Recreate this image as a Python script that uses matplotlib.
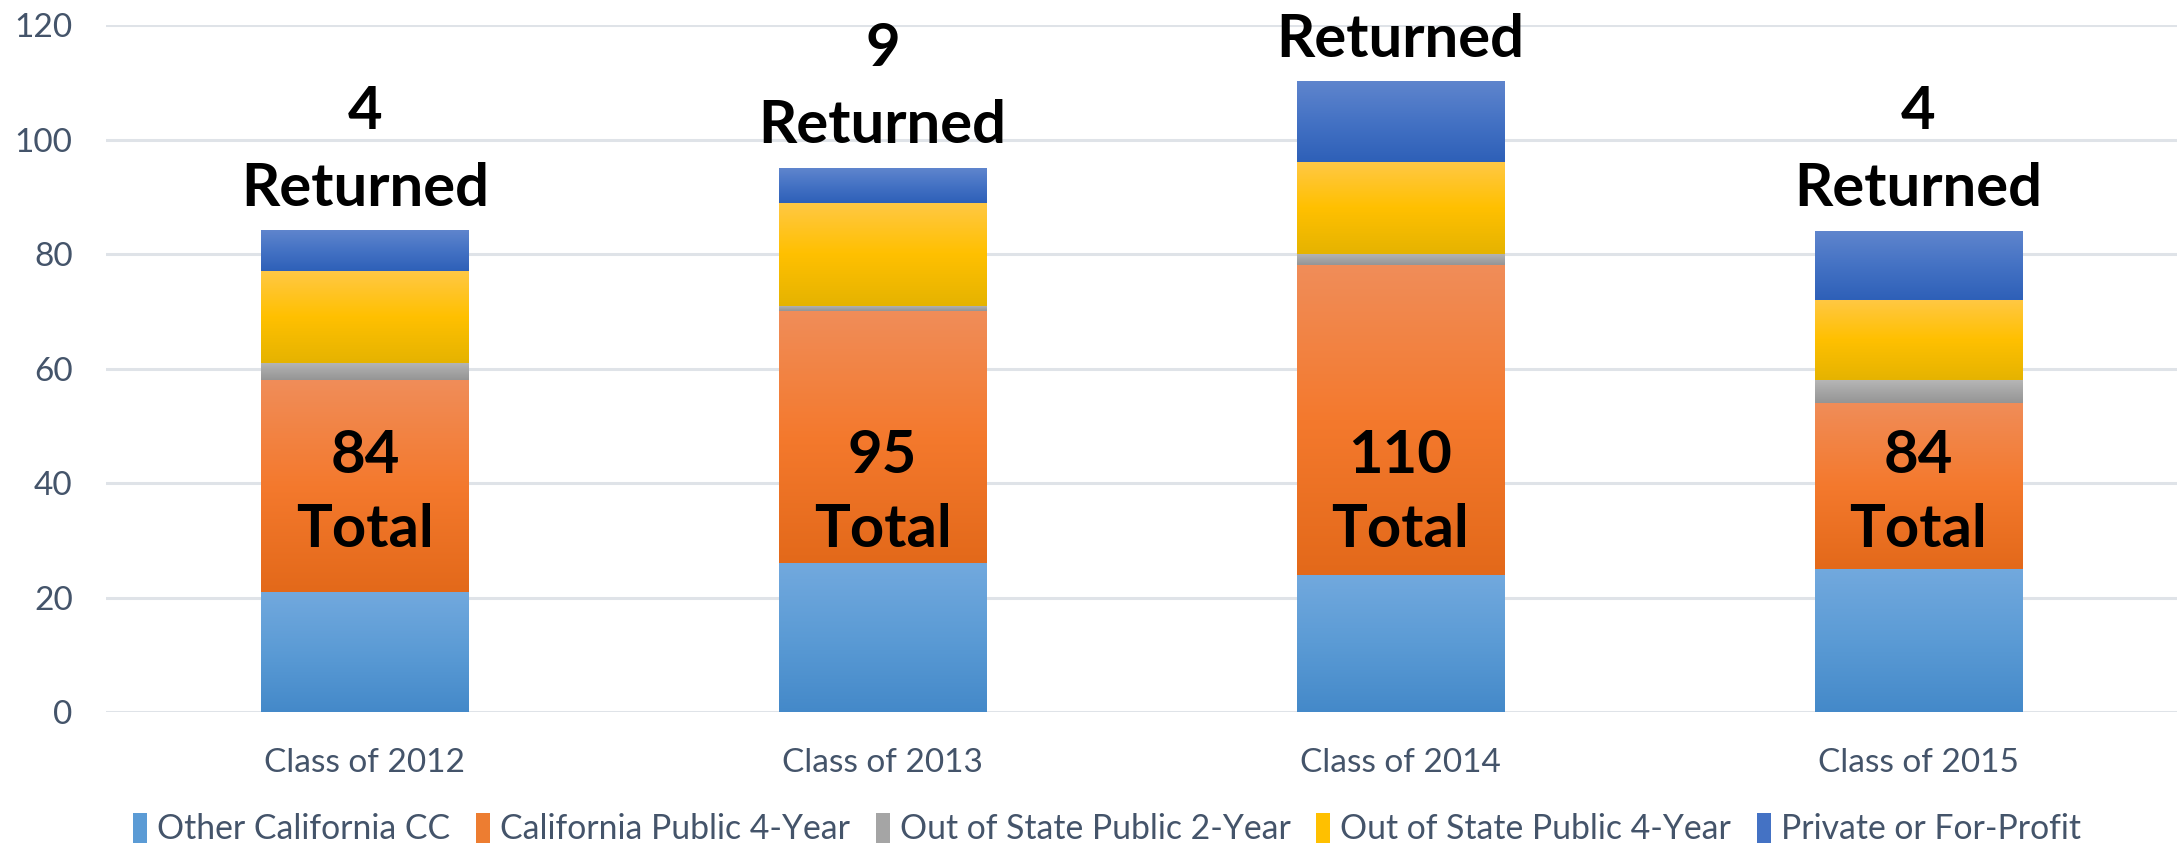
import matplotlib
matplotlib.use("Agg")
import matplotlib.pyplot as plt
from matplotlib.colors import LinearSegmentedColormap
import numpy as np

plt.rcParams['font.family'] = ['Lato', 'DejaVu Sans']

categories = ["Class of 2012", "Class of 2013", "Class of 2014", "Class of 2015"]
series_names = ["Other California CC", "California Public 4-Year", "Out of State Public 2-Year",
                "Out of State Public 4-Year", "Private or For-Profit"]
other_ca_cc = [21, 26, 24, 25]
ca_public_4yr = [37, 44, 54, 29]
oos_public_2yr = [3, 1, 2, 4]
oos_public_4yr = [16, 18, 16, 14]
private_for_profit = [7, 6, 14, 12]
totals = ["84", "95", "110", "84"]
returned = ["4", "9", "", "4"]
yticks = [0, 20, 40, 60, 80, 100, 120]

series = [other_ca_cc, ca_public_4yr, oos_public_2yr, oos_public_4yr, private_for_profit]
# (top, middle, bottom) gradient colours
grads = [("#72a9de", "#5b9bd5", "#4489c9"),
         ("#f08d59", "#f4792d", "#e3691a"),
         ("#b6b6b6", "#a5a5a5", "#959595"),
         ("#ffc845", "#ffc000", "#e5b300"),
         ("#5f85cd", "#4472c4", "#2e60b8")]
base = ["#5b9bd5", "#ed7d31", "#a5a5a5", "#ffc000", "#4472c4"]

fig = plt.figure(figsize=(21.77, 8.46), dpi=100)
ax = fig.add_axes([0.0487, 0.1584, 0.9513, 0.812])

x = np.arange(len(categories))
bottom = np.zeros(len(categories))
width = 0.40
for vals, g, c, name in zip(series, grads, base, series_names):
    bars = ax.bar(x, vals, width, bottom=bottom, color=c, label=name, zorder=2, linewidth=0)
    cmap = LinearSegmentedColormap.from_list("g", [g[2], g[1], g[0]])
    grad = np.linspace(0, 1, 256).reshape(-1, 1)
    for r in bars:
        x0, y0, w, h = r.get_x(), r.get_y(), r.get_width(), r.get_height()
        ax.imshow(grad, extent=(x0, x0 + w, y0, y0 + h), origin="lower", cmap=cmap,
                  aspect="auto", zorder=2.5, interpolation="bilinear")
    bottom = bottom + np.array(vals)

ax.set_xlim(-0.5, 3.5)
ax.set_ylim(0, 120)
ax.set_aspect("auto")
ax.set_yticks(yticks)
ax.set_xticks(x)
ax.set_xticklabels(categories)
ax.grid(axis="y", color="#dfe3e8", linewidth=2.2, zorder=0)
ax.set_axisbelow(True)
for s in ax.spines.values():
    s.set_visible(False)
ax.tick_params(axis="both", length=0, labelsize=24, colors="#44546a")
ax.tick_params(axis="y", pad=24)
ax.tick_params(axis="x", pad=26)

lbl = dict(fontsize=43, fontweight="bold", color="black", ha="center", zorder=5)
for i in range(len(categories)):
    ax.text(x[i], 38.3, totals[i] + "\nTotal", va="center", linespacing=1.45, **lbl)
    ax.annotate("Returned", xy=(x[i], bottom[i] + 4.4), va="baseline",
                annotation_clip=False, **lbl)
    if returned[i]:
        ax.annotate(returned[i], xy=(x[i], bottom[i] + 4.4), xytext=(0, 55.4),
                    textcoords="offset points", va="baseline", annotation_clip=False, **lbl)

leg = fig.legend(loc="center", bbox_to_anchor=(0.5085, 0.02), ncol=5, frameon=False,
                 fontsize=24.3, handlelength=0.42, handleheight=1.0, handletextpad=0.3,
                 columnspacing=0.75, borderaxespad=0)
for t in leg.get_texts():
    t.set_color("#44546a")

fig.savefig("out.png", dpi=100)
